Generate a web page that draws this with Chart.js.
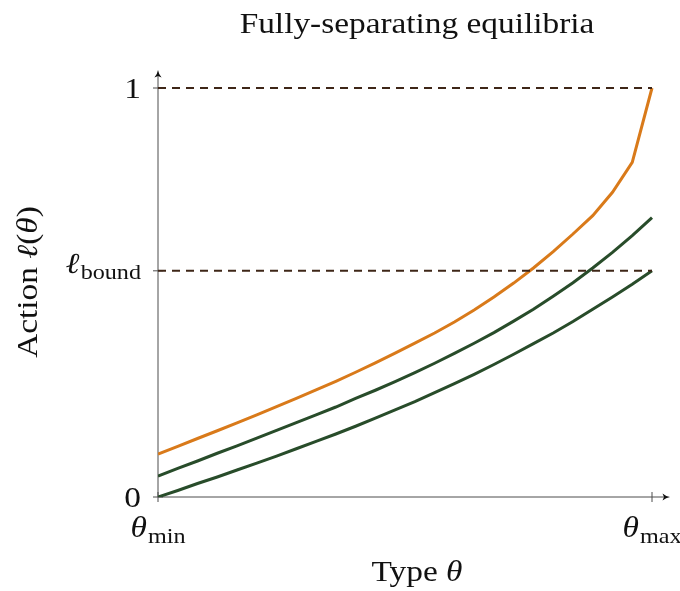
<!DOCTYPE html>
<html>
<head>
<meta charset="utf-8">
<script src="https://cdn.jsdelivr.net/npm/chart.js@4.4.1/dist/chart.umd.min.js"></script>
<style>
  html, body { margin: 0; padding: 0; background: #fff; }
  canvas { display: block; }
</style>
</head>
<body>
<canvas id="chart" width="680" height="591"></canvas>
<script>
// types theta, scaled so theta_min = 0 and theta_max = 1
const thetaGrid = [0, 0.04, 0.08, 0.12, 0.16, 0.2, 0.24, 0.28, 0.32, 0.36, 0.4, 0.44, 0.48,
                   0.52, 0.56, 0.6, 0.64, 0.68, 0.72, 0.76, 0.8, 0.84, 0.88, 0.92, 0.96, 1];

// orange curve (reaches the upper bound 1 at theta_max)
const actionOrange = [0.105, 0.124, 0.143, 0.162, 0.181, 0.201, 0.221, 0.241, 0.262, 0.283, 0.305, 0.328, 0.352,
                      0.376, 0.401, 0.428, 0.457, 0.489, 0.523, 0.560, 0.600, 0.643, 0.688, 0.745, 0.818, 1.0];

// upper green curve
const actionGreenHigh = [0.051, 0.070, 0.088, 0.107, 0.125, 0.144, 0.163, 0.182, 0.201, 0.220, 0.241, 0.261, 0.282,
                         0.304, 0.327, 0.351, 0.376, 0.402, 0.430, 0.459, 0.491, 0.524, 0.560, 0.598, 0.639, 0.683];

// lower green curve (starts at 0, ends at l_bound)
const actionGreenLow = [0.000, 0.016, 0.033, 0.049, 0.066, 0.083, 0.100, 0.118, 0.136, 0.154, 0.173, 0.193, 0.213,
                        0.233, 0.255, 0.277, 0.300, 0.324, 0.349, 0.375, 0.401, 0.429, 0.459, 0.489, 0.520, 0.553];

const lBound = 0.553;
const upperBound = 1;

const xTicks = [0, 1];
const xTickLabels = [['θ', 'min'], ['θ', 'max']];
const yTicks = [0, lBound, upperBound];
const yTickLabels = [['0', ''], ['ℓ', 'bound'], ['1', '']];

const FAMILY = "'Liberation Serif', 'DejaVu Serif', serif";
const MAIN = '29px ' + FAMILY;
const MAIN_IT = 'italic 29px ' + FAMILY;
const SUB = '21px ' + FAMILY;
const STRETCH = 1.15; // Computer Modern runs wider than Times
const ORANGE = '#d97a1a';
const GREEN = '#284c2a';
const BROWN = '#3e2617';
const AXIS = '#4d4d4d';
const INK = '#111';

function toPoints(values) {
    return thetaGrid.map((t, i) => ({ x: t, y: values[i] }));
}

function hLine(y) {
    return [{ x: thetaGrid[0], y: y }, { x: thetaGrid[thetaGrid.length - 1], y: y }];
}

// draw a row of text pieces (font / vertical shift each), stretched a bit
function drawRuns(ctx, runs, x, y, align) {
    let total = 0;
    runs.forEach(r => {
        ctx.font = r.font;
        r.w = ctx.measureText(r.text).width + (r.gap || 0);
        total += r.w;
    });
    let x0 = x;
    if (align === 'right') x0 = x - total * STRETCH;
    if (align === 'center') x0 = x - total * STRETCH / 2;
    ctx.save();
    ctx.translate(x0, y);
    ctx.scale(STRETCH, 1);
    ctx.textAlign = 'left';
    ctx.textBaseline = 'alphabetic';
    let cx = 0;
    runs.forEach(r => {
        ctx.font = r.font;
        ctx.fillText(r.text, cx + (r.gap || 0), r.dy || 0);
        cx += r.w;
    });
    ctx.restore();
}

function tickRuns(main, sub, italic) {
    const runs = [{ text: main, font: italic ? MAIN_IT : MAIN }];
    if (sub) runs.push({ text: sub, font: SUB, dy: 6, gap: 1 });
    return runs;
}

function arrowHead(ctx, x, y, dir) {
    ctx.save();
    ctx.translate(x, y);
    if (dir === 'right') ctx.rotate(Math.PI / 2);
    ctx.beginPath();
    ctx.moveTo(0, 0);
    ctx.quadraticCurveTo(0.6, 4, 3.6, 7.5);
    ctx.lineTo(0, 6);
    ctx.lineTo(-3.6, 7.5);
    ctx.quadraticCurveTo(-0.6, 4, 0, 0);
    ctx.fillStyle = INK;
    ctx.fill();
    ctx.restore();
}

const axesPlugin = {
    id: 'axesPlugin',
    beforeDatasetsDraw(chart) {
        const ctx = chart.ctx;
        const xs = chart.scales.x;
        const ys = chart.scales.y;
        const x0 = xs.getPixelForValue(0);
        const y0 = ys.getPixelForValue(0);
        const area = chart.chartArea;
        ctx.save();
        ctx.strokeStyle = AXIS;
        ctx.lineWidth = 1;
        ctx.beginPath();
        ctx.moveTo(x0, y0);
        ctx.lineTo(x0, area.top + 3);
        ctx.moveTo(x0, y0);
        ctx.lineTo(area.right - 3, y0);
        xTicks.forEach(v => {
            const px = xs.getPixelForValue(v);
            ctx.moveTo(px, y0 - 5);
            ctx.lineTo(px, y0 + 5);
        });
        yTicks.forEach(v => {
            const py = ys.getPixelForValue(v);
            ctx.moveTo(x0 - 5, py);
            ctx.lineTo(x0 + 5, py);
        });
        ctx.stroke();
        arrowHead(ctx, x0, area.top, 'up');
        arrowHead(ctx, area.right, y0, 'right');
        ctx.restore();
    },
    afterDraw(chart) {
        const ctx = chart.ctx;
        const xs = chart.scales.x;
        const ys = chart.scales.y;
        const x0 = xs.getPixelForValue(0);
        const y0 = ys.getPixelForValue(0);
        ctx.save();
        ctx.fillStyle = INK;

        yTicks.forEach((v, i) => {
            const py = ys.getPixelForValue(v);
            const [main, sub] = yTickLabels[i];
            drawRuns(ctx, tickRuns(main, sub, sub !== ''), x0 - 17, py + (sub ? 2 : 10), 'right');
        });
        xTicks.forEach((v, i) => {
            const px = xs.getPixelForValue(v);
            const [main, sub] = xTickLabels[i];
            drawRuns(ctx, tickRuns(main, sub, true), px, y0 + 40, 'center');
        });

        // title
        drawRuns(ctx, [{ text: 'Fully-separating equilibria', font: MAIN }], 417, 33, 'center');

        // x label
        drawRuns(ctx, [{ text: 'Type ', font: MAIN }, { text: 'θ', font: MAIN_IT }], 417, 581, 'center');

        // y label
        ctx.translate(37, 282);
        ctx.rotate(-Math.PI / 2);
        drawRuns(ctx, [
            { text: 'Action ', font: MAIN },
            { text: 'ℓ', font: MAIN_IT },
            { text: '(', font: MAIN },
            { text: 'θ', font: MAIN_IT },
            { text: ')', font: MAIN }
        ], 0, 0, 'center');
        ctx.restore();
    }
};

new Chart(document.getElementById('chart').getContext('2d'), {
    type: 'line',
    data: {
        datasets: [
            { data: hLine(upperBound), borderColor: BROWN, borderWidth: 2, borderDash: [8, 6] },
            { data: hLine(lBound), borderColor: BROWN, borderWidth: 2, borderDash: [8, 6] },
            { data: toPoints(actionGreenLow), borderColor: GREEN, borderWidth: 3 },
            { data: toPoints(actionGreenHigh), borderColor: GREEN, borderWidth: 3 },
            { data: toPoints(actionOrange), borderColor: ORANGE, borderWidth: 3 }
        ]
    },
    options: {
        responsive: false,
        animation: false,
        layout: {
            padding: { left: 158, right: 10, top: 70, bottom: 94 }
        },
        plugins: {
            legend: { display: false },
            tooltip: { enabled: false },
            title: { display: false }
        },
        elements: {
            point: { radius: 0 },
            line: { tension: 0, fill: false, borderCapStyle: 'butt' }
        },
        scales: {
            x: { type: 'linear', min: 0, max: 512 / 494, display: false },
            y: { type: 'linear', min: 0, max: 427 / 409, display: false }
        }
    },
    plugins: [axesPlugin]
});
</script>
</body>
</html>
